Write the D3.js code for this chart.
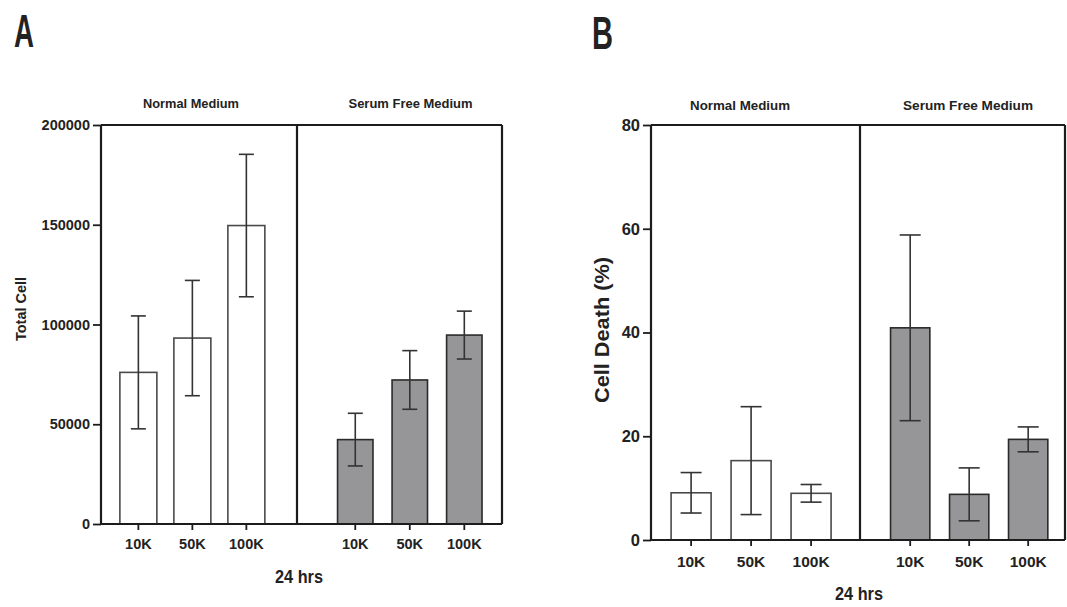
<!DOCTYPE html>
<html><head><meta charset="utf-8">
<script src="https://cdn.jsdelivr.net/npm/d3@7"></script>
<style>
html,body{margin:0;padding:0;background:#fff;}
svg text{font-family:"Liberation Sans",Arial,sans-serif;font-weight:bold;fill:#222;}
</style></head>
<body>
<svg id="chart" width="1067" height="607"></svg>
<script>
// ---- data ----
const doses = ["10K", "50K", "100K"];
const groupNames = ["Normal Medium", "Serum Free Medium"];
const xAxisTitle = "24 hrs";

const totalNormalMean = [76000, 93200, 149600];
const totalNormalSD   = [28300, 28900, 35700];
const totalSerumMean  = [42300, 72200, 94700];
const totalSerumSD    = [13200, 14700, 12000];
const totalTicks = [0, 50000, 100000, 150000, 200000];

const deathNormalMean = [9.1, 15.3, 9.0];
const deathNormalSD   = [3.9, 10.4, 1.7];
const deathSerumMean  = [40.9, 8.8, 19.4];
const deathSerumSD    = [17.9, 5.1, 2.4];
const deathTicks = [0, 20, 40, 60, 80];

const svg = d3.select("#chart");
const frameColor = "#1c1c1c";
const serumFill = "#969698";

function drawPanel(cfg) {
  const g = svg.append("g");
  const y = d3.scaleLinear().domain([0, cfg.yMax]).range([cfg.bottom, cfg.top]);
  const groupsData = [
    {name: groupNames[0], mean: cfg.normalMean, sd: cfg.normalSD, x0: cfg.left, x1: cfg.div,
     pi: cfg.nPadIn, po: cfg.nPadOut, al: cfg.nAlign, fill: "#fff", stroke: "#4a4a4a", tx: cfg.nTitleX, tw: cfg.nTitleW},
    {name: groupNames[1], mean: cfg.serumMean, sd: cfg.serumSD, x0: cfg.div, x1: cfg.right,
     pi: cfg.sPadIn, po: cfg.sPadOut, al: cfg.sAlign, fill: serumFill, stroke: "#2a2a2a", tx: cfg.sTitleX, tw: cfg.sTitleW}
  ];

  groupsData.forEach(gr => {
    const x = d3.scaleBand().domain(doses).range([gr.x0, gr.x1])
      .paddingInner(gr.pi).paddingOuter(gr.po).align(gr.al);
    const rows = doses.map((d, i) => ({dose: d, mean: gr.mean[i], sd: gr.sd[i]}));
    // bars
    g.selectAll(null).data(rows).enter().append("rect")
      .attr("x", d => x(d.dose)).attr("width", x.bandwidth())
      .attr("y", d => y(d.mean)).attr("height", d => y(0) - y(d.mean))
      .attr("fill", gr.fill).attr("stroke", gr.stroke).attr("stroke-width", 1.6);
    // error bars
    const eb = g.selectAll(null).data(rows).enter().append("g")
      .attr("stroke", "#333").attr("stroke-width", 1.6);
    const cx = d => x(d.dose) + x.bandwidth() / 2;
    eb.append("line").attr("x1", cx).attr("x2", cx)
      .attr("y1", d => y(d.mean - d.sd)).attr("y2", d => y(d.mean + d.sd));
    eb.append("line").attr("x1", d => cx(d) - cfg.cap).attr("x2", d => cx(d) + cfg.cap)
      .attr("y1", d => y(d.mean + d.sd)).attr("y2", d => y(d.mean + d.sd));
    eb.append("line").attr("x1", d => cx(d) - cfg.cap).attr("x2", d => cx(d) + cfg.cap)
      .attr("y1", d => y(d.mean - d.sd)).attr("y2", d => y(d.mean - d.sd));
    // x axis ticks + labels
    const xa = d3.axisBottom(x).tickSize(6).tickPadding(cfg.xTickPad);
    const axg = g.append("g").attr("transform", `translate(0,${cfg.bottom})`).call(xa);
    axg.select(".domain").remove();
    axg.selectAll(".tick line").attr("stroke", frameColor).attr("stroke-width", 1.8);
    axg.selectAll(".tick text").style("font-size", cfg.xTickFont + "px").attr("fill", "#222");
    // group title
    g.append("text").attr("x", gr.tx).attr("y", cfg.titleY)
      .attr("text-anchor", "middle").style("font-size", cfg.titleFont + "px")
      .attr("textLength", gr.tw).attr("lengthAdjust", "spacingAndGlyphs")
      .text(gr.name);
  });

  // y axis
  const ya = d3.axisLeft(y).tickValues(cfg.ticks).tickSize(8).tickPadding(3).tickFormat(d3.format("d"));
  const yg = g.append("g").attr("transform", `translate(${cfg.left},0)`).call(ya);
  yg.select(".domain").remove();
  yg.selectAll(".tick line").attr("stroke", frameColor).attr("stroke-width", 1.8);
  yg.selectAll(".tick text").style("font-size", cfg.yTickFont + "px").attr("fill", "#222");

  // frame
  const fr = g.append("g").attr("stroke", frameColor).attr("stroke-width", 2.2).attr("fill", "none");
  fr.append("line").attr("x1", cfg.left).attr("x2", cfg.right).attr("y1", cfg.top).attr("y2", cfg.top);
  fr.append("line").attr("x1", cfg.left).attr("x2", cfg.right).attr("y1", cfg.bottom).attr("y2", cfg.bottom);
  fr.append("line").attr("x1", cfg.left).attr("x2", cfg.left).attr("y1", cfg.top).attr("y2", cfg.bottom);
  fr.append("line").attr("x1", cfg.div).attr("x2", cfg.div).attr("y1", cfg.top).attr("y2", cfg.bottom);
  fr.append("line").attr("x1", cfg.right).attr("x2", cfg.right).attr("y1", cfg.top).attr("y2", cfg.bottom);

  // y title
  g.append("text").attr("transform", `translate(${cfg.yTitleX},${cfg.yTitleY}) rotate(-90)`)
    .attr("text-anchor", "middle").style("font-size", cfg.yTitleFont + "px")
    .attr("textLength", cfg.yTitleW).attr("lengthAdjust", "spacingAndGlyphs")
    .text(cfg.yTitle);
  // x title
  g.append("text").attr("x", cfg.xTitleX).attr("y", cfg.xTitleY)
    .attr("text-anchor", "middle").style("font-size", "19px")
    .attr("textLength", 48).attr("lengthAdjust", "spacingAndGlyphs")
    .text(xAxisTitle);
  // panel letter
  g.append("text").attr("x", cfg.letterX).attr("y", cfg.letterY)
    .style("font-size", "46px").attr("textLength", cfg.letterW).attr("lengthAdjust", "spacingAndGlyphs")
    .text(cfg.letter);
}

drawPanel({
  letter: "A", letterX: 14, letterY: 47, letterW: 20,
  left: 101, div: 297, right: 502, top: 125, bottom: 524,
  yMax: 200000, ticks: totalTicks, yTickFont: 14.5,
  normalMean: totalNormalMean, normalSD: totalNormalSD,
  serumMean: totalSerumMean, serumSD: totalSerumSD,
  nPadIn: 0.315, nPadOut: 0.4725, nAlign: 0.37,
  sPadIn: 0.35, sPadOut: 0.555, sAlign: 0.67,
  cap: 7.5, xTickFont: 14.5, xTickPad: 9,
  titleY: 108, titleFont: 13, nTitleX: 191, nTitleW: 96, sTitleX: 410.5, sTitleW: 124,
  yTitle: "Total Cell", yTitleX: 26, yTitleY: 309, yTitleFont: 15, yTitleW: 64,
  xTitleX: 299, xTitleY: 583
});

drawPanel({
  letter: "B", letterX: 592, letterY: 49, letterW: 21,
  left: 651, div: 860, right: 1065, top: 125, bottom: 540,
  yMax: 80, ticks: deathTicks, yTickFont: 16.5,
  normalMean: deathNormalMean, normalSD: deathNormalSD,
  serumMean: deathSerumMean, serumSD: deathSerumSD,
  nPadIn: 0.333, nPadOut: 0.4085, nAlign: 0.41,
  sPadIn: 0.334, sPadOut: 0.4045, sAlign: 0.64,
  cap: 10.5, xTickFont: 15.5, xTickPad: 10,
  titleY: 110, titleFont: 13.5, nTitleX: 740, nTitleW: 100, sTitleX: 968, sTitleW: 130,
  yTitle: "Cell Death (%)", yTitleX: 609, yTitleY: 330, yTitleFont: 19.5, yTitleW: 146,
  xTitleX: 859, xTitleY: 600
});
</script>
</body></html>
